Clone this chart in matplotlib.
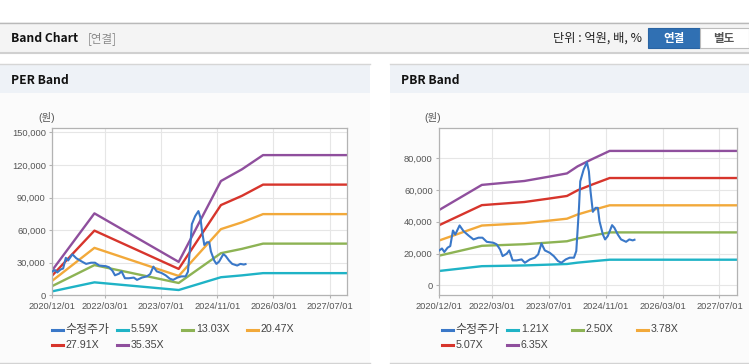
import datetime as dt

import matplotlib
matplotlib.use("Agg")
import matplotlib.pyplot as plt
import matplotlib.dates as mdates
from matplotlib.lines import Line2D
from matplotlib.patches import Rectangle
from matplotlib.ticker import FuncFormatter

plt.rcParams["font.family"] = ["Liberation Sans", "Noto Sans CJK KR"]

# ---- data ----
price_dates = [
    "2020-12-01", "2020-12-24", "2021-01-13", "2021-02-10", "2021-03-05", "2021-03-28",
    "2021-04-17", "2021-05-24", "2021-06-27", "2021-08-08", "2021-09-20", "2021-11-02",
    "2021-12-06", "2022-01-12", "2022-03-10", "2022-04-07", "2022-05-06", "2022-05-28",
    "2022-07-02", "2022-07-24", "2022-08-22", "2022-09-25", "2022-11-07", "2022-12-05",
    "2023-01-17", "2023-02-28", "2023-03-29", "2023-04-26", "2023-05-25", "2023-07-06",
    "2023-08-10", "2023-09-15", "2023-10-14", "2023-11-20", "2023-12-24", "2024-01-30",
    "2024-02-19", "2024-03-13", "2024-03-24", "2024-04-22", "2024-05-20", "2024-06-06",
    "2024-06-20", "2024-07-10", "2024-08-02", "2024-08-22", "2024-09-05", "2024-10-04",
    "2024-10-23", "2024-11-15", "2024-12-22", "2025-01-11", "2025-02-09", "2025-03-09",
    "2025-04-21", "2025-05-19", "2025-06-17", "2025-07-02",
]
price = [
    22000, 23200, 21000, 23700, 24700, 34500,
    32000, 37700, 34100, 31400, 28900, 30000,
    30000, 27400, 26800, 25800, 22600, 18400,
    19900, 22000, 15700, 15700, 16300, 14200,
    16300, 17400, 19500, 26400, 22000, 20500,
    18400, 15300, 14200, 16300, 17400, 17400,
    21600, 48800, 65500, 72900, 77500, 71800,
    59300, 46300, 48800, 48800, 40400, 32000,
    28900, 31000, 37900, 36200, 32000, 28900,
    27400, 28900, 28300, 28700,
]

per_dates = ["2020-12-01", "2021-12-01", "2023-12-01", "2024-12-01", "2025-06-01", "2025-12-01", "2027-12-01"]
per_labels = ["5.59X", "13.03X", "20.47X", "27.91X", "35.35X"]
per_559 = [3660, 11920, 4860, 16630, 18340, 20400, 20400]
per_1303 = [8530, 27790, 11340, 38760, 42740, 47560, 47560]
per_2047 = [13410, 43660, 17810, 60900, 67140, 74720, 74720]
per_2791 = [18280, 59530, 24280, 83030, 91540, 101870, 101870]
per_3535 = [23150, 75400, 30750, 105170, 115950, 129030, 129030]

pbr_dates = ["2020-12-01", "2021-12-01", "2022-12-01", "2023-07-01", "2023-12-01",
             "2024-03-01", "2024-07-01", "2024-12-01", "2027-12-01"]
pbr_labels = ["1.21X", "2.50X", "3.78X", "5.07X", "6.35X"]
pbr_121 = [9050, 12050, 12520, 13040, 13430, 14280, 15130, 16130, 16130]
pbr_250 = [18700, 24900, 25880, 26950, 27750, 29500, 31250, 33330, 33330]
pbr_378 = [28270, 37650, 39120, 40750, 41960, 44600, 47250, 50390, 50390]
pbr_507 = [37920, 50500, 52470, 54650, 56280, 59830, 63380, 67580, 67580]
pbr_635 = [47500, 63250, 65720, 68450, 70490, 74930, 79380, 84650, 84650]

tick_dates = ["2020-12-01", "2022-03-01", "2023-07-01", "2024-11-01", "2026-03-01", "2027-07-01"]
per_yticks = [0, 30000, 60000, 90000, 120000, 150000]
pbr_yticks = [0, 20000, 40000, 60000, 80000]

price_label = "수정주가"
price_color = "#3a78c8"
band_colors = ["#1fb3c6", "#8db354", "#f2a93a", "#d7352c", "#8f4f9d"]

W, H = 749, 364
fig = plt.figure(figsize=(W / 100, H / 100), dpi=100)
fig.patch.set_facecolor("white")


def to_date(s):
    return dt.date.fromisoformat(s)


def box(x, y, w, h, **kw):
    fig.patches.append(Rectangle((x / W, 1 - (y + h) / H), w / W, h / H,
                                 transform=fig.transFigure, zorder=0, **kw))


def hline(x0, x1, y, color, lw=1.0):
    fig.add_artist(Line2D([x0 / W, x1 / W], [1 - y / H, 1 - y / H], color=color, lw=lw, zorder=1))


def text(x, y, s, **kw):
    fig.text(x / W, 1 - y / H, s, **kw)


# ---- page chrome ----
box(0, 22.5, 749, 30, facecolor="#f4f4f4", edgecolor="none")
hline(0, 749, 22.5, "#b9b9b9")
hline(0, 749, 52.5, "#d0d0d0", lw=1.5)
text(11, 38.5, "Band Chart", fontsize=8.7, fontweight="bold", family=["Noto Sans CJK KR"],
     va="center", color="#111")
text(88, 38.5, "[연결]", fontsize=8.3, family=["Noto Sans CJK KR"], va="center", color="#8a8a8a")
text(642, 38.5, "단위 : 억원, 배, %", fontsize=8.8, family=["Noto Sans CJK KR"], va="center",
     ha="right", color="#222")
box(647.5, 28, 52, 20, facecolor="#3070b3", edgecolor="#2a64a3", lw=0.8)
box(699.5, 28, 49, 20, facecolor="white", edgecolor="#bdbdbd", lw=0.8)
text(673.5, 38.2, "연결", fontsize=8.3, fontweight="bold", family=["Noto Sans CJK KR"],
     va="center", ha="center", color="white")
text(724, 38.2, "별도", fontsize=8.3, fontweight="bold", family=["Noto Sans CJK KR"],
     va="center", ha="center", color="#555")

for px0, pw, title in [(0, 370, "PER Band"), (390, 359, "PBR Band")]:
    box(px0, 64, pw, 28.5, facecolor="#eef2f7", edgecolor="none")
    box(px0, 92.5, pw, 270.5, facecolor="#fbfbfb", edgecolor="none")
    hline(px0, px0 + pw, 64.3, "#d6d6d6")
    hline(px0, px0 + pw, 363.3, "#d3d3d3")
    text(px0 + 11, 80.5, title, fontsize=8.7, fontweight="bold", family=["Noto Sans CJK KR"],
         va="center", color="#111")


def band_panel(rect, dates, bands, labels, yticks, ylim, unit_x, legend_x):
    left, top, right, bottom = rect
    ax = fig.add_axes([left / W, 1 - bottom / H, (right - left) / W, (bottom - top) / H])
    ax.set_zorder(5)
    ax.set_facecolor("white")

    xs = [to_date(d) for d in dates]
    ax.plot([to_date(d) for d in price_dates], price, color=price_color, lw=1.5, zorder=3)
    for vals, c in zip(bands, band_colors):
        ax.plot(xs, vals, color=c, lw=1.7, zorder=2)

    ax.set_xlim(to_date("2020-12-01"), to_date("2027-12-01"))
    ax.set_ylim(*ylim)
    ax.set_xticks([to_date(d) for d in tick_dates])
    ax.xaxis.set_major_formatter(mdates.DateFormatter("%Y/%m/%d"))
    ax.set_yticks(yticks)
    ax.yaxis.set_major_formatter(FuncFormatter(lambda v, _: f"{int(v):,}"))
    ax.grid(True, color="#e6e6e6", lw=0.8, zorder=0)
    ax.set_axisbelow(True)
    for sp in ax.spines.values():
        sp.set_color("#b3b3b3")
        sp.set_linewidth(0.9)
    ax.tick_params(length=2.5, width=0.8, color="#b3b3b3", pad=2.2,
                   labelsize=6.7, labelcolor="#555555")

    text(unit_x, 118, "(원)", fontsize=7.5, ha="center", va="center", color="#555")

    # legend, fixed-width entries like the original widget
    entries = [(price_label, price_color)] + list(zip(labels, band_colors))
    for i, (lab, c) in enumerate(entries):
        row, col = divmod(i, 4)
        x0 = legend_x + col * 65
        y0 = 329.5 + row * 15
        fig.add_artist(Line2D([x0 / W, (x0 + 11) / W], [1 - y0 / H, 1 - y0 / H], color=c, lw=2.2))
        size = 8.6 if lab == price_label else 7.7
        text(x0 + 13.5, y0, lab, fontsize=size, va="center", color="#444")
    return ax


band_panel((52.3, 128.3, 347.3, 295.3), per_dates,
           [per_559, per_1303, per_2047, per_2791, per_3535], per_labels,
           per_yticks, (0, 153700), 46.7, 52.3)
band_panel((439.3, 128.3, 737.3, 295.0), pbr_dates,
           [pbr_121, pbr_250, pbr_378, pbr_507, pbr_635], pbr_labels,
           pbr_yticks, (-6100, 98900), 432.5, 442.3)

fig.savefig("out.png", dpi=100)
